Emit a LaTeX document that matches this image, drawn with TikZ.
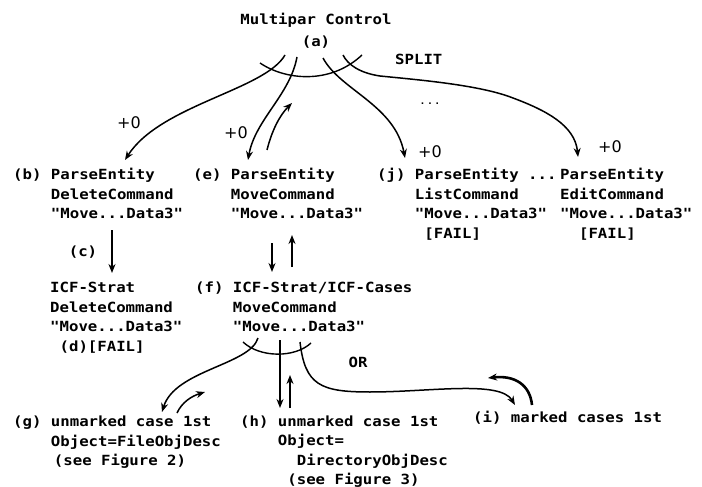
\documentclass[tikz,border=0pt]{standalone}
\usepackage{fontspec}
\setmonofont{DejaVu Sans Mono}[FakeStretch=1.12]
\setsansfont{DejaVu Sans}
\usetikzlibrary{arrows.meta}
\begin{document}
\begin{tikzpicture}[x=1pt,y=-1pt,
  txt/.style={font=\ttfamily\bfseries\fontsize{14}{19.7}\selectfont, anchor=base west, align=left, inner sep=0pt},
  conn/.style={line width=1.5pt, -{Stealth[length=9pt,width=7pt]}},
  plain/.style={line width=1.4pt},
  lbl/.style={font=\sffamily\fontsize{16}{16}\selectfont, inner sep=0pt}]
\useasboundingbox (0,0) rectangle (702,487);
\fill[white] (0,0) rectangle (702,487);
% texts (anchor = baseline of the last line)
\node[txt, anchor=base, align=center, font=\ttfamily\bfseries\fontsize{14}{22}\selectfont] (a) at (316,46.5) {Multipar Control\\(a)};
\node[txt] (split) at (395,64.5) {SPLIT};
\node[txt, anchor=base, font=\ttfamily\fontsize{11}{11}\selectfont] (dots) at (430,104) {...};
\node[txt] (b) at (13,218.9) {(b) ParseEntity\\\hphantom{0000}DeleteCommand\\\hphantom{0000}"Move...Data3"};
\node[txt] (e) at (193,218.9) {(e) ParseEntity\\\hphantom{0000}MoveCommand\\\hphantom{0000}"Move...Data3"};
\node[txt] (j) at (377,238.6) {(j) ParseEntity ...\\\hphantom{0000}ListCommand\\\hphantom{0000}"Move...Data3"\\\hphantom{00000}[FAIL]};
\node[txt] (k) at (560,238.6) {ParseEntity\\EditCommand\\"Move...Data3"\\\hphantom{00}[FAIL]};
\node[txt, anchor=base] (clbl) at (83,256.5) {(c)};
\node[txt] (d) at (50,351.6) {ICF-Strat\\DeleteCommand\\"Move...Data3"\\\hphantom{0}(d)[FAIL]};
\node[txt] (f) at (195,331.9) {(f) ICF-Strat/ICF-Cases\\\hphantom{0000}MoveCommand\\\hphantom{0000}"Move...Data3"};
\node[txt, anchor=base] (or) at (358,367.5) {OR};
\node[txt] (g) at (13,465.9) {(g) unmarked case 1st\\\hphantom{0000}Object=FileObjDesc\\\hphantom{0000}\hspace{3pt}(see Figure 2)};
\node[txt, font=\ttfamily\bfseries\fontsize{14}{19.3}\selectfont] (h) at (240,484.4) {(h) unmarked case 1st\\\hphantom{0000}Object=\\\hphantom{000000}DirectoryObjDesc\\\hphantom{00000}(see Figure 3)};
\node[txt] (i) at (473,422.5) {(i) marked cases 1st};
% +0 labels
\node[lbl] (p1) at (129,123) {+0};
\node[lbl] (p2) at (236,133) {+0};
\node[lbl] (p3) at (430,152) {+0};
\node[lbl] (p4) at (610,147) {+0};
% coordinates top split
\coordinate (sA1) at (260,63);
\coordinate (sA2) at (362,55);
\coordinate (tb) at (285,55);
\coordinate (bt) at (125,160);
\coordinate (te) at (297,57);
\coordinate (et) at (248,160);
\coordinate (eu) at (267,150);
\coordinate (eut) at (292,103);
\coordinate (tj) at (323,58);
\coordinate (jt) at (405,158);
\coordinate (tk) at (343,55);
\coordinate (kt) at (578,157);
% top split
\draw[plain] (sA1) .. controls (285,80) and (330,85) .. (sA2);
\draw[conn] (tb) .. controls (265,90) and (160,105) .. (bt);
\draw[conn] (te) .. controls (290,95) and (255,120) .. (et);
\draw[conn] (eu) .. controls (272,130) and (280,115) .. (eut);
\draw[conn] (tj) .. controls (340,90) and (395,105) .. (jt);
\draw[conn] (tk) .. controls (348,65) and (360,73) .. (380,76) .. controls (420,80) and (480,85) .. (513,98) .. controls (545,110) and (575,125) .. (kt);
% middle vertical arrows
\coordinate (c1) at (112,230); \coordinate (c2) at (112,273);
\coordinate (e1) at (272,243); \coordinate (e2) at (272,272);
\coordinate (e3) at (292,267); \coordinate (e4) at (292,235);
\draw[conn] (c1) -- (c2);
\draw[conn] (e1) -- (e2);
\draw[conn] (e3) -- (e4);
% bottom split
\coordinate (fA1) at (243,342);
\coordinate (fA2) at (311,343);
\coordinate (fg) at (258,338);
\coordinate (gt) at (162,412);
\coordinate (gb) at (177,413);
\coordinate (gbt) at (205,392);
\coordinate (fh) at (280,340);
\coordinate (ht) at (280,408);
\coordinate (hb) at (290,408);
\coordinate (hbt) at (290,375);
\coordinate (fi) at (300,342);
\coordinate (it) at (515,405);
\coordinate (ib) at (532,405);
\coordinate (ibt) at (488,378);
\draw[plain] (fA1) .. controls (260,358) and (295,358) .. (fA2);
\draw[conn] (fg) .. controls (250,365) and (175,370) .. (gt);
\draw[conn] (gb) .. controls (182,402) and (192,396) .. (gbt);
\draw[conn] (fh) -- (ht);
\draw[conn] (hb) -- (hbt);
\draw[conn] (fi) .. controls (305,385) and (320,392) .. (370,392) .. controls (430,392) and (500,380) .. (it);
\draw[conn, line width=2.6pt] (ib) .. controls (530,385) and (515,375) .. (ibt);
\end{tikzpicture}
\end{document}
